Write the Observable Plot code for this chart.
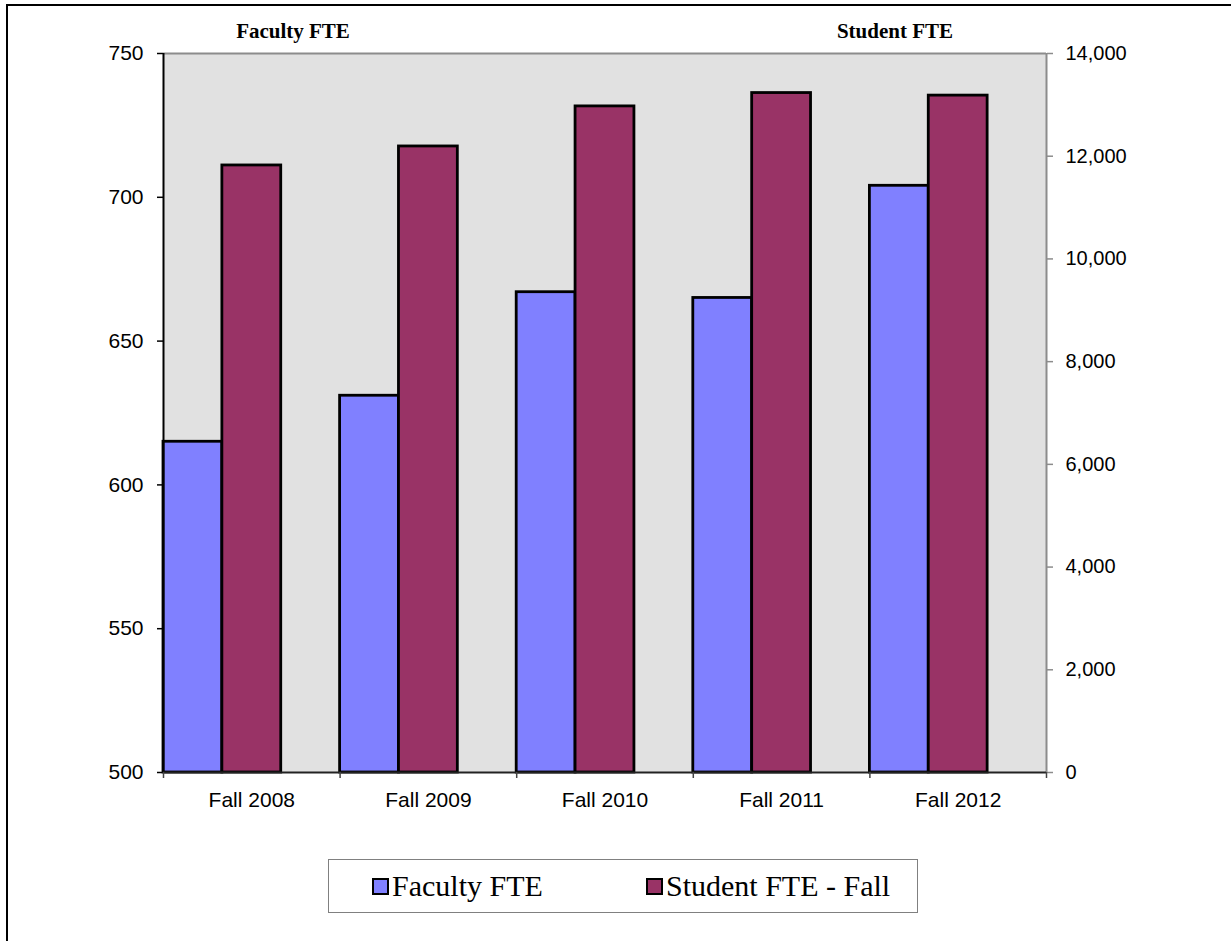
<!DOCTYPE html>
<html>
<head>
<meta charset="utf-8">
<script src="https://cdn.jsdelivr.net/npm/d3@7"></script>
<script src="https://cdn.jsdelivr.net/npm/@observablehq/plot@0.6"></script>
<style>
  html, body { margin: 0; padding: 0; background: #fff; }
  #wrap { position: relative; width: 1231px; height: 941px; overflow: hidden; background: #fff; }
  #border { position: absolute; left: 6px; top: 4px; width: 1400px; height: 1200px; border-top: 2px solid #000; border-left: 2px solid #000; box-sizing: border-box; }
  #chart { position: absolute; left: 0; top: 0; }
  .title { position: absolute; top: 19px; width: 200px; text-align: center; font-family: "Liberation Serif", "Times New Roman", serif; font-weight: bold; font-size: 21px; color: #000; }
  #legend { position: absolute; left: 328px; top: 859px; width: 590px; height: 54px; border: 1px solid #808080; box-sizing: border-box; background: #fff; font-family: "Liberation Serif", "Times New Roman", serif; font-size: 30px; color: #000; }
  .item { position: absolute; top: 7px; display: flex; align-items: center; height: 38px; }
  .sw { width: 13px; height: 13px; border: 2px solid #000; margin-right: 3px; }
</style>
</head>
<body>
<div id="wrap">
  <div id="border"></div>
  <div id="chart"></div>
  <div class="title" style="left:193px">Faculty FTE</div>
  <div class="title" style="left:795px">Student FTE</div>
  <div id="legend"></div>
</div>
<script>
const categories = ["Fall 2008", "Fall 2009", "Fall 2010", "Fall 2011", "Fall 2012"];
const facultyFTE = [615, 631, 667, 665, 704];
const studentFTE = [11820, 12190, 12970, 13230, 13180];
const seriesNames = ["Faculty FTE", "Student FTE - Fall"];
const seriesColors = ["#8080FF", "#993366"];
const leftTicks = [500, 550, 600, 650, 700, 750];
const rightTicks = [0, 2000, 4000, 6000, 8000, 10000, 12000, 14000];

const leftDomain = [leftTicks[0], leftTicks[leftTicks.length - 1]];
const rightDomain = [rightTicks[0], rightTicks[rightTicks.length - 1]];
const toLeft = v => leftDomain[0] + (v - rightDomain[0]) * (leftDomain[1] - leftDomain[0]) / (rightDomain[1] - rightDomain[0]);
const fromLeft = y => rightDomain[0] + (y - leftDomain[0]) * (rightDomain[1] - rightDomain[0]) / (leftDomain[1] - leftDomain[0]);

const rows = categories.map((c, i) => ({i, category: c, faculty: facultyFTE[i], student: studentFTE[i]}));
const n = categories.length;
const boundaries = d3.range(n + 1);
const centers = d3.range(n).map(i => i + 0.5);

const chart = Plot.plot({
  width: 1231,
  height: 830,
  marginLeft: 163,
  marginRight: 185,
  marginTop: 53,
  marginBottom: 58,
  style: { fontFamily: "'Liberation Sans', Arial, sans-serif", fontSize: "20px", color: "#000", background: "transparent", overflow: "visible" },
  x: { domain: [0, n], axis: null },
  y: { domain: leftDomain, axis: null },
  marks: [
    Plot.frame({ fill: "#e1e1e1", stroke: "none" }),
    Plot.ruleY([leftDomain[1]], { stroke: "#8c8c8c", strokeWidth: 2 }),
    Plot.ruleX([n], { stroke: "#8c8c8c", strokeWidth: 2 }),
    Plot.rect(rows, { x1: d => d.i, x2: d => d.i + 1 / 3, y1: leftDomain[0], y2: "faculty", fill: seriesColors[0], stroke: "#000", strokeWidth: 2.8 }),
    Plot.rect(rows, { x1: d => d.i + 1 / 3, x2: d => d.i + 2 / 3, y1: leftDomain[0], y2: d => toLeft(d.student), fill: seriesColors[1], stroke: "#000", strokeWidth: 2.8 }),
    Plot.ruleX([0], { stroke: "#000", strokeWidth: 2 }),
    Plot.ruleY([leftDomain[0]], { stroke: "#222", strokeWidth: 2 }),
    Plot.axisY({ ticks: leftTicks, anchor: "left", tickSize: 6, tickPadding: 14, label: null, stroke: "#000", strokeWidth: 1.5, fontSize: 21 }),
    Plot.axisY({ ticks: rightTicks.map(toLeft), anchor: "right", tickSize: 6, tickPadding: 13, label: null, stroke: "#8c8c8c", strokeWidth: 1.5, fill: "#000", fontSize: 20,
      tickFormat: d => d3.format(",")(Math.round(fromLeft(d) / 100) * 100) }),
    Plot.axisX({ ticks: boundaries, anchor: "bottom", tickSize: 6, tickFormat: () => "", label: null, stroke: "#444", strokeWidth: 1.5 }),
    Plot.axisX({ ticks: centers, anchor: "bottom", tickSize: 0, tickPadding: 20, label: null, fontSize: 21, tickFormat: d => categories[Math.floor(d)] })
  ]
});
document.getElementById("chart").appendChild(chart);

const legend = document.getElementById("legend");
const lefts = [43, 317];
seriesNames.forEach((name, k) => {
  const item = document.createElement("div");
  item.className = "item";
  item.style.left = lefts[k] + "px";
  const sw = document.createElement("div");
  sw.className = "sw";
  sw.style.background = seriesColors[k];
  const t = document.createElement("span");
  t.textContent = name;
  item.appendChild(sw);
  item.appendChild(t);
  legend.appendChild(item);
});
</script>
</body>
</html>
